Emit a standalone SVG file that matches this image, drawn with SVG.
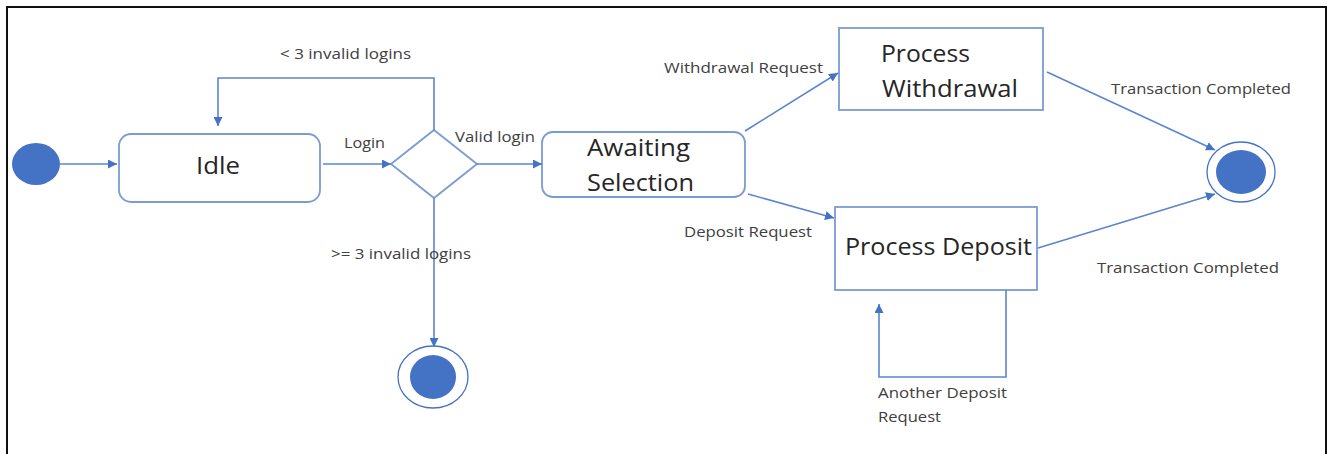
<svg xmlns="http://www.w3.org/2000/svg" width="1331" height="454" viewBox="0 0 1331 454">
<style>
.frame{fill:none;stroke:#111;stroke-width:2}
.box{fill:#fff;stroke:#7b9bd6;stroke-width:1.8}
.edge{fill:none;stroke:#5b85d0;stroke-width:1.6}
.dot{fill:#4472c4}
.ring{fill:#fff;stroke:#4472c4;stroke-width:1.3}
.lbl{font-family:"Open Sans","Liberation Sans",sans-serif;font-size:14.5px;fill:#404040}
.big{font-family:"Open Sans","Liberation Sans",sans-serif;font-size:24px;fill:#262626}
</style>
<defs>
<marker id="arr" viewBox="0 0 10 10" refX="10" refY="5" markerWidth="9" markerHeight="9" markerUnits="userSpaceOnUse" orient="auto">
<path d="M0,0 L10,5 L0,10 z" fill="#4472c4"/>
</marker>
</defs>
<rect width="1331" height="454" fill="#fff"/>
<path class="frame" d="M7,454 V7 H1326 V454"/>

<g id="start"><ellipse class="dot" cx="36" cy="164" rx="24" ry="21"/></g>
<g id="idle"><rect class="box" x="119" y="134" width="201" height="68" rx="12"/><text class="big" x="196" y="174" textLength="44" lengthAdjust="spacingAndGlyphs">Idle</text></g>
<g id="decision"><path class="box" d="M434,130 L477,164 L434,198 L391,164 Z"/></g>
<g id="awaiting"><rect class="box" x="542" y="132" width="203" height="65" rx="11"/><text class="big" x="587" y="156" textLength="103" lengthAdjust="spacingAndGlyphs">Awaiting</text><text class="big" x="587" y="191" textLength="107" lengthAdjust="spacingAndGlyphs">Selection</text></g>
<g id="withdrawal"><rect class="box" x="839" y="28" width="204" height="82"/><text class="big" x="881" y="62" textLength="89" lengthAdjust="spacingAndGlyphs">Process</text><text class="big" x="882" y="97" textLength="136" lengthAdjust="spacingAndGlyphs">Withdrawal</text></g>
<g id="deposit"><rect class="box" x="835" y="207" width="202" height="83"/><text class="big" x="845" y="255" textLength="187" lengthAdjust="spacingAndGlyphs">Process Deposit</text></g>
<g id="end1"><ellipse class="ring" cx="433" cy="377" rx="35" ry="31"/><ellipse class="dot" cx="433" cy="377" rx="23" ry="22"/></g>
<g id="end2"><ellipse class="ring" cx="1241" cy="172" rx="34" ry="30"/><ellipse class="dot" cx="1241" cy="172" rx="25" ry="22"/></g>

<g id="connectors">
<path class="edge" d="M60,164 H117" marker-end="url(#arr)"/>
<path class="edge" d="M323,164 H391" marker-end="url(#arr)"/>
<path class="edge" d="M434,130 V78 H218 V126" marker-end="url(#arr)"/>
<path class="edge" d="M477,164 H542" marker-end="url(#arr)"/>
<path class="edge" d="M434,198 V347" marker-end="url(#arr)"/>
<path class="edge" d="M745,131 L838,73" marker-end="url(#arr)"/>
<path class="edge" d="M748,194 L834,218" marker-end="url(#arr)"/>
<path class="edge" d="M1047,72 L1215,150" marker-end="url(#arr)"/>
<path class="edge" d="M1038,248 L1215,194" marker-end="url(#arr)"/>
<path class="edge" d="M1006,290 V377 H879 V304" marker-end="url(#arr)"/>
</g>

<g id="labels">
<text class="lbl" x="280" y="59" textLength="131" lengthAdjust="spacingAndGlyphs">&lt; 3 invalid logins</text>
<text class="lbl" x="344" y="148" textLength="41" lengthAdjust="spacingAndGlyphs">Login</text>
<text class="lbl" x="455" y="142" textLength="80" lengthAdjust="spacingAndGlyphs">Valid login</text>
<text class="lbl" x="331" y="259" textLength="140" lengthAdjust="spacingAndGlyphs">&gt;= 3 invalid logins</text>
<text class="lbl" x="664" y="73" textLength="159" lengthAdjust="spacingAndGlyphs">Withdrawal Request</text>
<text class="lbl" x="684" y="237" textLength="128" lengthAdjust="spacingAndGlyphs">Deposit Request</text>
<text class="lbl" x="1111" y="94" textLength="180" lengthAdjust="spacingAndGlyphs">Transaction Completed</text>
<text class="lbl" x="1097" y="273" textLength="182" lengthAdjust="spacingAndGlyphs">Transaction Completed</text>
<text class="lbl" x="878" y="398" textLength="129" lengthAdjust="spacingAndGlyphs">Another Deposit</text>
<text class="lbl" x="878" y="422" textLength="63" lengthAdjust="spacingAndGlyphs">Request</text>
</g>
</svg>
